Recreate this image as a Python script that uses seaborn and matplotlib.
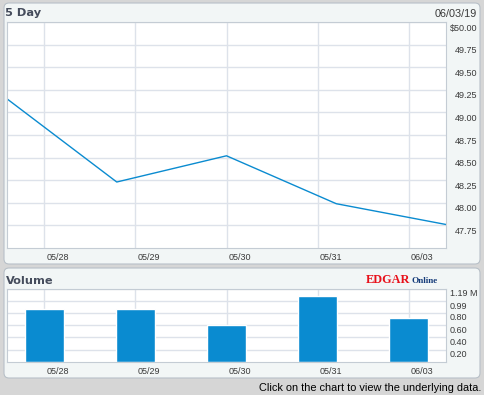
import matplotlib
matplotlib.use("Agg")
import matplotlib.pyplot as plt
from matplotlib.patches import FancyBboxPatch
from matplotlib.transforms import ScaledTranslation
import seaborn as sns

# data
days = ["05/28", "05/29", "05/30", "05/31", "06/03"]
price_close = [49.15, 48.23, 48.52, 47.99, 47.76]
price_ticks = [50.00, 49.75, 49.50, 49.25, 49.00, 48.75, 48.50, 48.25, 48.00, 47.75]
price_labels = ["$50.00", "49.75", "49.50", "49.25", "49.00", "48.75", "48.50", "48.25", "48.00", "47.75"]
volume_m = [0.87, 0.87, 0.61, 1.08, 0.72]
vol_ticks = [0.20, 0.40, 0.60, 0.80, 0.99, 1.19]
vol_labels = ["0.20", "0.40", "0.60", "0.80", "0.99", "1.19 M"]

BLUE = "#0a8bd0"
GRID = "#dde2ea"
SPINE = "#c4ccd4"
TXT = "#3a3a3a"

sns.set_style("white")
plt.rcParams["font.family"] = ["Liberation Sans", "DejaVu Sans"]

W, H = 484, 395
fig = plt.figure(figsize=(W / 100, H / 100), dpi=100)
fig.patch.set_facecolor("#d6d6d6")


def px_axes(x0, y0, x1, y1):
    ax = fig.add_axes([x0 / W, 1 - y1 / H, (x1 - x0) / W, (y1 - y0) / H])
    ax.set_zorder(2)
    return ax


def panel(x0, y0, x1, y1):
    p = FancyBboxPatch((x0 / 100, (H - y1) / 100), (x1 - x0) / 100, (y1 - y0) / 100,
                       boxstyle="round,pad=0,rounding_size=0.05",
                       transform=fig.dpi_scale_trans, facecolor="#f2f6f6",
                       edgecolor="#b8c0c8", linewidth=0.8, zorder=-1)
    fig.patches.append(p)


panel(4, 3, 480, 264)
panel(4, 268, 480, 378)


def style_axes(ax):
    ax.set_facecolor("white")
    for s in ax.spines.values():
        s.set_color(SPINE)
        s.set_linewidth(0.8)
    ax.grid(True, color=GRID, linewidth=1)
    ax.set_axisbelow(True)
    ax.set_xlabel("")
    ax.set_ylabel("")


def shift(labels, dx, dy):
    for lab in labels:
        lab.set_transform(lab.get_transform() + ScaledTranslation(dx / 100, dy / 100, fig.dpi_scale_trans))


# price panel
ax1 = px_axes(7, 22, 446, 248)
sns.lineplot(x=list(range(len(price_close))), y=price_close, ax=ax1, color=BLUE, linewidth=1)
style_axes(ax1)
ax1.set_xlim(0, 4)
ax1.set_ylim(47.5, 50.0)
ax1.set_xticks([0.34 + 0.83 * i for i in range(len(days))])
ax1.set_xticklabels(days)
ax1.set_yticks(price_ticks)
ax1.set_yticklabels(price_labels)
ax1.tick_params(axis="x", length=0, pad=3.5, labelsize=6.5, labelcolor=TXT)
ax1.tick_params(axis="y", left=False, right=False, labelleft=False, labelright=True,
                length=0, pad=22.3, labelsize=6.5, labelcolor=TXT)
plt.setp(ax1.get_xticklabels(), ha="left")
plt.setp(ax1.get_yticklabels(), ha="right")
shift(ax1.get_xticklabels(), 2, 0)
shift(ax1.get_yticklabels(), 0, -5)

# volume panel
ax2 = px_axes(7, 289, 446, 362)
sns.barplot(x=days, y=volume_m, ax=ax2, color=BLUE, width=0.43, saturation=1)
style_axes(ax2)
ax2.set_xlim(-0.412, 4.412)
ax2.set_ylim(0, 1.19)
ax2.set_xticks(range(len(days)))
ax2.set_xticklabels(days)
ax2.set_yticks(vol_ticks)
ax2.set_yticklabels(vol_labels)
ax2.tick_params(axis="x", length=0, pad=3.5, labelsize=6.5, labelcolor=TXT)
ax2.tick_params(axis="y", left=False, right=False, labelleft=False, labelright=True,
                length=0, pad=2.9, labelsize=6.5, labelcolor=TXT)
plt.setp(ax2.get_xticklabels(), ha="left")
shift(ax2.get_xticklabels(), 2, 0)
shift(ax2.get_yticklabels(), 0, -4)

# titles and captions
fig.text(5 / W, 1 - 13 / H, "5 Day", fontsize=8.2, fontweight="bold", color="#454c5c",
         family="DejaVu Sans", va="center", ha="left")
fig.text(477 / W, 1 - 14 / H, "06/03/19", fontsize=7.8, color=TXT, va="center", ha="right")
fig.text(6 / W, 1 - 281 / H, "Volume", fontsize=8.2, fontweight="bold", color="#454c5c",
         family="DejaVu Sans", va="center", ha="left")
fig.text(366 / W, 1 - 280 / H, "EDGAR", fontsize=8.8, fontweight="bold", color="#e8101a",
         family="Liberation Serif", va="center", ha="left")
fig.text(411 / W, 1 - 281 / H, "Online", fontsize=6.6, fontweight="bold", color="#163c7a",
         family="Liberation Serif", va="center", ha="left")
fig.text(481 / W, 1 - 388 / H, "Click on the chart to view the underlying data.",
         fontsize=7.9, color="black", va="center", ha="right")

fig.savefig("out.png", dpi=100, facecolor=fig.get_facecolor())
